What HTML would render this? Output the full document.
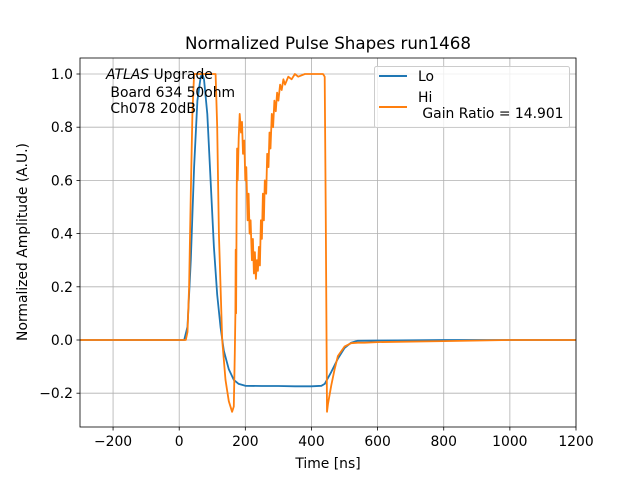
<!DOCTYPE html>
<html><head><meta charset="utf-8"><style>
body{margin:0;background:#fff;}
svg text{font-family:"DejaVu Sans","Liberation Sans",sans-serif;white-space:pre;}
</style></head><body>
<svg id="chart" width="640" height="480" xmlns="http://www.w3.org/2000/svg">
<rect width="640" height="480" fill="#fff"/>
<g id="grid"></g>
<g id="series"></g>
<rect x="80" y="58" width="496" height="369" fill="none" stroke="#000" stroke-width="0.8"/>
<g id="axes"></g>
<text x="328" y="49" font-size="16.7" text-anchor="middle">Normalized Pulse Shapes run1468</text>
<text x="328" y="468" font-size="13.9" text-anchor="middle">Time [ns]</text>
<text transform="translate(27,242) rotate(-90)" font-size="13.9" text-anchor="middle">Normalized Amplitude (A.U.)</text>
<g font-size="13.9">
<text x="106" y="79"><tspan font-style="italic">ATLAS</tspan> Upgrade</text>
<text x="106" y="97"> Board 634 50ohm</text>
<text x="106" y="113"> Ch078 20dB</text>
</g>
<g>
<rect x="374.5" y="66.5" width="195" height="61" rx="2" fill="#fff" fill-opacity="0.8" stroke="#ccc"/>
<line x1="379" y1="76" x2="407" y2="76" stroke="#1f77b4" stroke-width="2"/>
<text x="418" y="81" font-size="13.9">Lo</text>
<line x1="379" y1="107" x2="407" y2="107" stroke="#ff7f0e" stroke-width="2"/>
<text x="418" y="102" font-size="13.9">Hi</text>
<text x="418" y="118" font-size="13.9"> Gain Ratio = 14.901</text>
</g>
</svg>
<script>
const xTicks=[-200,0,200,400,600,800,1000,1200];
const yTicks=[-0.2,0,0.2,0.4,0.6,0.8,1.0];
const loTime=[-300,0,15,25,35,45,55,65,70,75,85,95,105,115,125,135,150,165,180,200,250,300,350,400,430,440,460,480,500,520,540,600,800,1000,1200];
const loVal=[0,0,0,0.05,0.3,0.65,0.9,0.99,1.0,0.98,0.85,0.6,0.35,0.17,0.05,-0.04,-0.11,-0.15,-0.165,-0.172,-0.173,-0.173,-0.174,-0.174,-0.172,-0.165,-0.12,-0.07,-0.03,-0.01,-0.003,-0.002,0,0,0];
const hiTime=[-300,0,20,25,30,35,40,45,60,80,100,110,115,120,130,140,150,160,165,168,170,171,172,174,175,177,180,183,187,190,193,197,200,203,207,210,213,216,220,223,226,229,232,235,238,241,244,247,250,253,256,259,263,266,270,273,276,280,284,288,292,296,300,305,310,315,320,330,340,350,360,380,400,420,435,440,443,447,450,460,470,480,500,520,540,560,600,800,1000,1200];
const hiVal=[0,0,0,0.03,0.2,0.55,0.85,1.0,1.0,1.0,1.0,1.0,0.8,0.4,0.0,-0.15,-0.23,-0.27,-0.25,-0.05,0.1,0.34,0.1,0.55,0.72,0.6,0.76,0.85,0.78,0.82,0.7,0.75,0.6,0.65,0.45,0.55,0.4,0.45,0.3,0.38,0.25,0.33,0.23,0.3,0.26,0.35,0.28,0.45,0.38,0.55,0.45,0.6,0.55,0.7,0.65,0.78,0.72,0.85,0.8,0.9,0.86,0.93,0.9,0.96,0.94,0.98,0.96,0.99,0.98,1.0,0.99,1.0,1.0,1.0,1.0,0.99,0.5,-0.27,-0.24,-0.17,-0.11,-0.06,-0.025,-0.012,-0.01,-0.01,-0.008,-0.004,0,0];
const X=t=>80+(t+300)*496/1500;
const Y=v=>340-v*266;
const NS='http://www.w3.org/2000/svg';
const grid=document.getElementById('grid'),axes=document.getElementById('axes'),ser=document.getElementById('series');
function mk(tag,at,parent){const e=document.createElementNS(NS,tag);for(const k in at)e.setAttribute(k,at[k]);parent.appendChild(e);return e;}
xTicks.forEach(t=>{const x=X(t);
const g=mk('line',{x1:x,x2:x,y1:58,y2:427,stroke:'#b0b0b0','stroke-width':0.8},grid);


mk('line',{x1:x,x2:x,y1:427,y2:430.5,stroke:'#000','stroke-width':0.8},axes);
const l=mk('text',{x:x,y:446,'font-size':13.9,'text-anchor':'middle'},axes);l.textContent=(t<0?'\u2212'+(-t):t);

});
yTicks.forEach(v=>{const y=Y(v);
const g=mk('line',{x1:80,x2:576,y1:y,y2:y,stroke:'#b0b0b0','stroke-width':0.8},grid);


mk('line',{x1:76.5,x2:80,y1:y,y2:y,stroke:'#000','stroke-width':0.8},axes);
const l=mk('text',{x:73,y:y+5,'font-size':13.9,'text-anchor':'end'},axes);l.textContent=(v<0?'\u2212'+(-v).toFixed(1):v.toFixed(1));

});
function line(ts,vs,color,name){const d=ts.map((t,i)=>(i?'L':'M')+X(t).toFixed(1)+','+Y(vs[i]).toFixed(1)).join('');
const p=mk('path',{d:d,fill:'none',stroke:color,'stroke-width':1.8,'stroke-linejoin':'round'},ser);

}
line(loTime,loVal,'#1f77b4','lo-series');
line(hiTime,hiVal,'#ff7f0e','hi-series');
</script>
</body></html>
